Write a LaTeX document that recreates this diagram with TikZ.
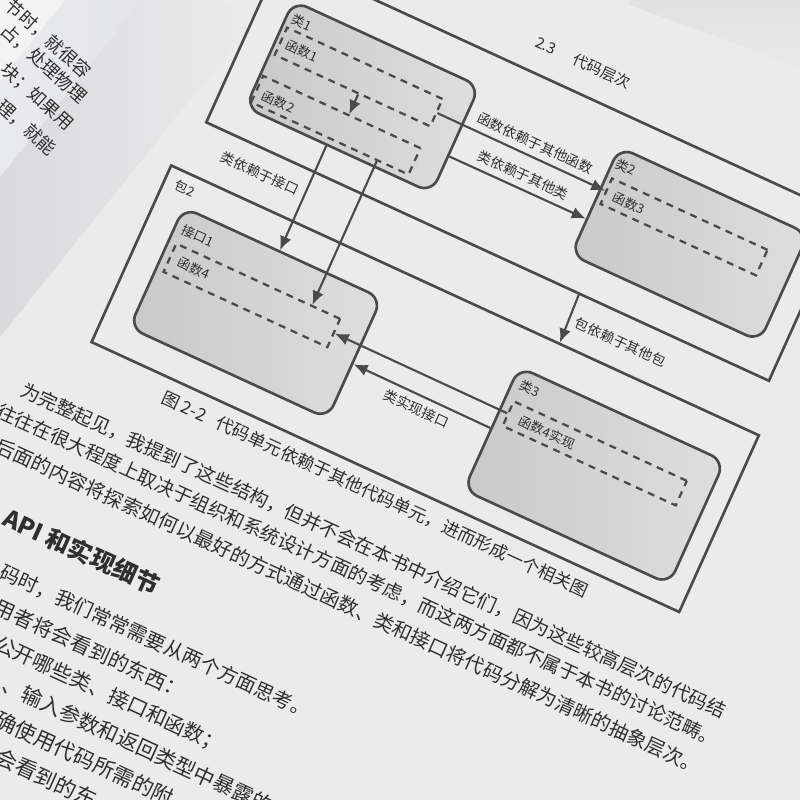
\documentclass[tikz,border=0pt]{standalone}
\usepackage{fontspec}
\setmainfont{Noto Sans CJK SC}
\usepackage{tikz}
\usetikzlibrary{arrows.meta}

\definecolor{pagebg}{HTML}{EBEBEB}
\definecolor{leftpg}{HTML}{F3F3F3}
\definecolor{leftedge}{HTML}{E2E3E8}
\definecolor{gutter}{HTML}{CDCED5}
\definecolor{cornerc}{HTML}{DADADA}
\definecolor{ink}{HTML}{4A4A4A}
\definecolor{txt}{HTML}{2F2F2F}
\definecolor{boxdark}{HTML}{C9C9C9}
\definecolor{boxlight}{HTML}{DEDEDE}

\begin{document}
\begin{tikzpicture}[
    >={Latex[length=4pt,width=3.4pt]},
    pkgbox/.style={draw=ink, line width=0.75pt, inner sep=0pt},
    classbox/.style={draw=ink, line width=0.75pt, rounded corners=4.2pt,
                     left color=boxdark, right color=boxlight, inner sep=0pt},
    funcbox/.style={draw=ink, line width=0.65pt, dash pattern=on 2pt off 1.7pt, inner sep=0pt},
    boxlbl/.style={font=\fontsize{3.7}{4}\selectfont, text=txt, inner sep=0pt},
    deplbl/.style={font=\fontsize{3.9}{4.2}\selectfont, text=txt, inner sep=1.8pt},
    dep/.style={draw=ink, line width=0.6pt, ->},
    bodytxt/.style={anchor=west, inner sep=0pt, text=txt},
    leftrow/.style={anchor=west, inner sep=0pt, text=txt, rotate=-42,
                    font=\fontsize{5.1}{5.5}\selectfont}
]
    \useasboundingbox (0,0) rectangle (8,8);
    \clip (0,0) rectangle (8,8);
    % Paper
    \fill[pagebg] (0,0) rectangle (8,8);
    \begin{scope}[shift={(6.3,8)}, rotate=-20]
        \shade[bottom color=pagebg, top color=cornerc] (0,-0.05) rectangle (2.4,0.7);
    \end{scope}
    % Left page and gutter shadow
    \begin{scope}[shift={(1.42,8)}, rotate=-38.7]
        \fill[leftpg] (-3,-5) rectangle (0,0.5);
        \shade[left color=leftpg, right color=leftedge] (-0.6,-5) rectangle (0,0.5);
        \shade[left color=gutter, right color=pagebg] (0,-5) rectangle (1.0,0.5);
    \end{scope}
    \node[leftrow] (lrow1) at (0.079,7.98) {节时，就很容};
    \node[leftrow] (lrow2) at (0.033,7.73) {占，处理物理};
    \node[leftrow] (lrow3) at (0.033,7.33) {块；如果用};
    \node[leftrow] (lrow4) at (-0.007,6.97) {理，就能};

    % Right page, tilted
    \begin{scope}[cm={0.9254,-0.425,0.4105,0.9105,(2.768cm,8.485cm)},
                  x=0.01cm, y=-0.01cm, transform shape]
        % Running head
        \node[bodytxt, font=\fontsize{4.3}{4.6}\selectfont] (head) at (268,-27) {2.3\hspace{1.3em}代码层次};

        % Packages
        \node[pkgbox, minimum width=6.08cm, minimum height=1.82cm] (pkg1) at (310,94) {};
        \node[pkgbox, minimum width=6.35cm, minimum height=1.94cm] (pkg2) at (309.5,336) {};
        \node[boxlbl] (pkg2lbl) at (13,254) {包2};

        % Classes and interface
        \node[classbox, minimum width=2.01cm, minimum height=1.17cm] (class1) at (135.5,96.5) {};
        \node[classbox, minimum width=2.04cm, minimum height=1.18cm] (class2) at (488,94) {};
        \node[classbox, minimum width=2.14cm, minimum height=1.32cm] (iface1) at (127,338) {};
        \node[classbox, minimum width=2.22cm, minimum height=1.35cm] (class3) at (496,344.5) {};
        \node[boxlbl] (class1lbl) at (51,54) {类1};
        \node[boxlbl] (class2lbl) at (400,50) {类2};
        \node[boxlbl] (iface1lbl) at (44,292) {接口1};
        \node[boxlbl] (class3lbl) at (403,292) {类3};

        % Functions
        \node[funcbox, minimum width=1.68cm, minimum height=0.30cm] (func1) at (124,80) {};
        \node[funcbox, minimum width=1.70cm, minimum height=0.29cm] (func2) at (123,133.5) {};
        \node[funcbox, minimum width=1.68cm, minimum height=0.28cm] (func3) at (476,80.5) {};
        \node[funcbox, minimum width=1.77cm, minimum height=0.31cm] (func4) at (116.5,323.5) {};
        \node[funcbox, minimum width=1.87cm, minimum height=0.27cm] (impl4) at (487.5,324) {};
        \node[boxlbl] (func1lbl) at (63,80) {函数1};
        \node[boxlbl] (func2lbl) at (62,136) {函数2};
        \node[boxlbl] (func3lbl) at (417,82) {函数3};
        \node[boxlbl] (func4lbl) at (54,323) {函数4};
        \node[boxlbl] (impl4lbl) at (436,325) {函数4实现};

        % Dependencies
        \draw[dep] (func1.-68) -- (func2.64);
        \draw[dep] (func1.east) -- (func3.west) node[deplbl, pos=0.55, above] {函数依赖于其他函数};
        \draw[dep] (class1.-10) -- (class2.191) node[deplbl, midway, above] {类依赖于其他类};
        \draw[dep] (class1.-102) -- (iface1.93) node[deplbl, pos=0.46, left] {类依赖于接口};
        \draw[dep] (func2.-17) -- (func4.16);
        \draw[dep] (pkg1.-43) -- (pkg2.44) node[deplbl, midway, right] {包依赖于其他包};
        \draw[dep] (impl4.west) -- (func4.east);
        \draw[dep] (class3.west) -- (iface1.-3) node[deplbl, midway, below] {类实现接口};

        % Caption and body text
        \node[bodytxt, font=\fontsize{4.95}{5.2}\selectfont] (caption) at (77,453)
            {图 2-2\hspace{0.7em}代码单元依赖于其他代码单元，进而形成一个相关图};
        \node[bodytxt, font=\fontsize{5.4}{5.8}\selectfont] (line1) at (-52,505)
            {为完整起见，我提到了这些结构，但并不会在本书中介绍它们，因为这些较高层次的代码结};
        \node[bodytxt, font=\fontsize{5.4}{5.8}\selectfont] (line2) at (-65,534)
            {往往在很大程度上取决于组织和系统设计方面的考虑，而这两方面都不属于本书的讨论范畴。};
        \node[bodytxt, font=\fontsize{5.55}{5.9}\selectfont] (line3) at (-52.5,566)
            {后面的内容将探索如何以最好的方式通过函数、类和接口将代码分解为清晰的抽象层次。};
        \node[bodytxt, font=\fontsize{6.8}{7.2}\selectfont\bfseries] (heading) at (-16,628)
            {API 和实现细节};
        \node[bodytxt, font=\fontsize{5.58}{6}\selectfont] (row1) at (3,679) {码时，我们常常需要从两个方面思考。};
        \node[bodytxt, font=\fontsize{5.8}{6.2}\selectfont] (row2) at (12,713) {用者将会看到的东西：};
        \node[bodytxt, font=\fontsize{5.8}{6.2}\selectfont] (row3) at (27,747) {公开哪些类、接口和函数；};
        \node[bodytxt, font=\fontsize{5.9}{6.3}\selectfont] (row4) at (50,781) {、输入参数和返回类型中暴露的};
        \node[bodytxt, font=\fontsize{6.0}{6.4}\selectfont] (row5) at (58,815) {确使用代码所需的附};
        \node[bodytxt, font=\fontsize{6.1}{6.5}\selectfont] (row6) at (73,849) {会看到的东};
    \end{scope}
\end{tikzpicture}
\end{document}
